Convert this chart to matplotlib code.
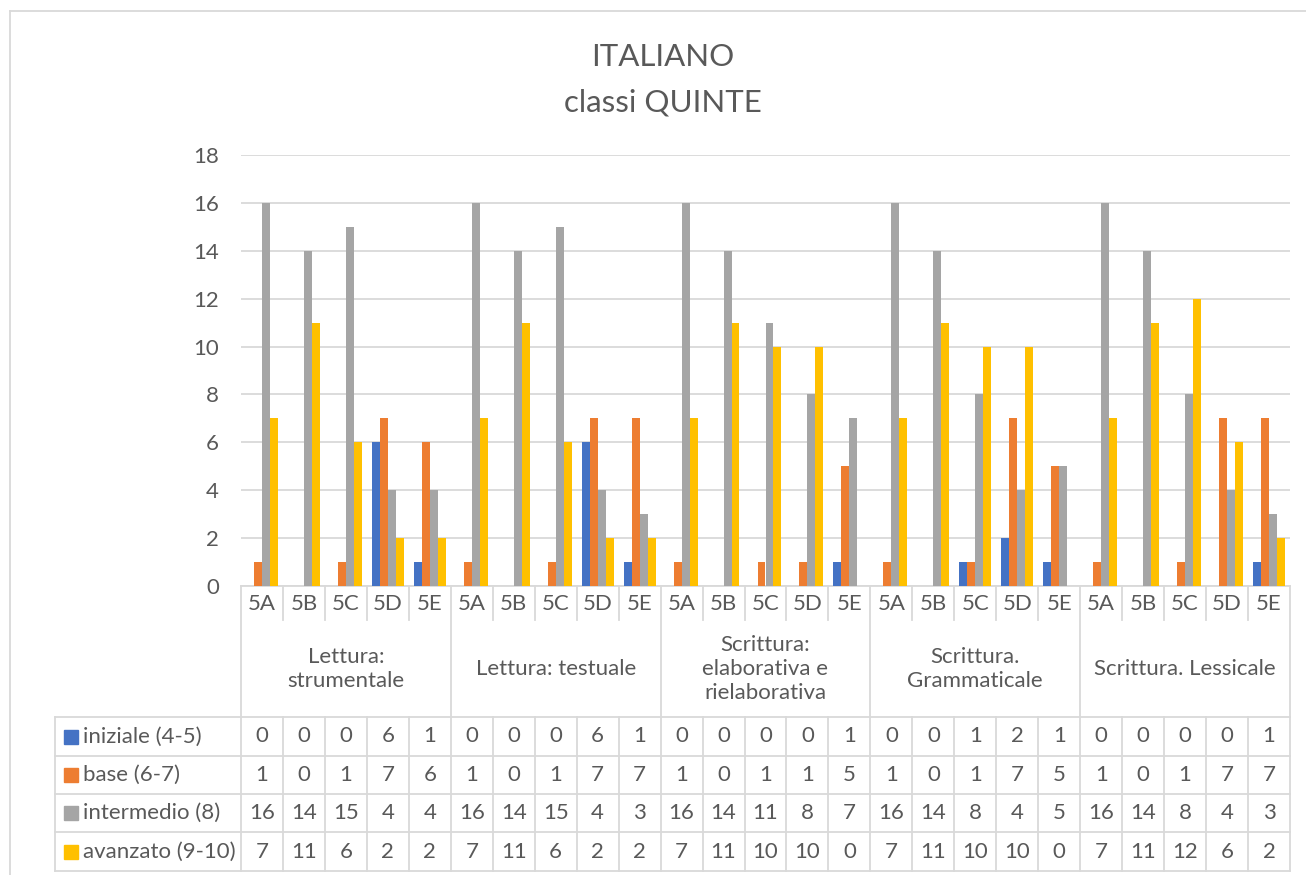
import numpy as np
import matplotlib.pyplot as plt
from matplotlib.lines import Line2D
from matplotlib.patches import Rectangle

plt.rcParams['font.family'] = ['Lato', 'DejaVu Sans']

groups = ["Lettura:\nstrumentale", "Lettura: testuale",
          "Scrittura:\nelaborativa e\nrielaborativa",
          "Scrittura.\nGrammaticale", "Scrittura. Lessicale"]
classes = ["5A", "5B", "5C", "5D", "5E"]
series = ["iniziale (4-5)", "base (6-7)", "intermedio (8)", "avanzato (9-10)"]
iniziale = [0, 0, 0, 6, 1, 0, 0, 0, 6, 1, 0, 0, 0, 0, 1, 0, 0, 1, 2, 1, 0, 0, 0, 0, 1]
base = [1, 0, 1, 7, 6, 1, 0, 1, 7, 7, 1, 0, 1, 1, 5, 1, 0, 1, 7, 5, 1, 0, 1, 7, 7]
intermedio = [16, 14, 15, 4, 4, 16, 14, 15, 4, 3, 16, 14, 11, 8, 7, 16, 14, 8, 4, 5, 16, 14, 8, 4, 3]
avanzato = [7, 11, 6, 2, 2, 7, 11, 6, 2, 2, 7, 11, 10, 10, 0, 7, 11, 10, 10, 0, 7, 11, 12, 6, 2]
colors = ["#4472C4", "#ED7D31", "#A5A5A5", "#FFC000"]

TXT = "#595959"
GRID = "#D9D9D9"
FS = 16

data = [iniziale, base, intermedio, avanzato]
n = len(iniziale)
x = np.arange(n)

W, H = 1306, 875
L, R, T, B = 241, 1290, 155, 586
fig = plt.figure(figsize=(W / 100, H / 100), dpi=100)

# bars
ax = fig.add_axes([L / W, 1 - B / H, (R - L) / W, (B - T) / H])
bw = 0.19
for k, (vals, c) in enumerate(zip(data, colors)):
    ax.bar(x + (k - 1.5) * bw, vals, bw, color=c, zorder=3)
ax.set_xlim(-0.5, n - 0.5)
ax.set_ylim(0, 18)
ax.set_yticks(range(0, 19, 2))
ax.yaxis.grid(True, color=GRID, lw=1.3)
ax.set_axisbelow(True)
for s in ["top", "right", "left"]:
    ax.spines[s].set_visible(False)
ax.spines["bottom"].set_color(GRID)
ax.spines["bottom"].set_linewidth(1.3)
ax.set_xticks([])
ax.tick_params(axis="y", length=0, pad=16, labelsize=FS, labelcolor=TXT)

# data table under the chart, y in pixel rows
tax = fig.add_axes([L / W, 0, (R - L) / W, (H - B) / H])
tax.set_xlim(-0.5, n - 0.5)
tax.set_ylim(H, B)
tax.axis("off")
unit = (R - L) / n
px2x = lambda p: -0.5 + (p - L) / unit
xl = px2x(55)
rows = [717, 756, 794, 832, 871]
kw = dict(color=GRID, lw=1.3, clip_on=False)

for i in range(n + 1):
    xv = i - 0.5
    if i % 5 == 0:
        tax.plot([xv, xv], [B, rows[-1]], **kw)
    else:
        tax.plot([xv, xv], [B, 620], **kw)
        tax.plot([xv, xv], [rows[0], rows[-1]], **kw)
tax.plot([xl, xl], [rows[0], rows[-1]], **kw)
for r in rows:
    tax.plot([xl, n - 0.5], [r, r], **kw)

for i in range(n):
    tax.text(i, 604, classes[i % 5], ha="center", va="center", fontsize=FS, color=TXT)
for g, name in enumerate(groups):
    tax.text(g * 5 + 2, 669, name, ha="center", va="center", fontsize=FS,
             color=TXT, linespacing=1.25)

for k, (vals, c, name) in enumerate(zip(data, colors, series)):
    yc = (rows[k] + rows[k + 1]) / 2
    tax.add_patch(Rectangle((px2x(64), yc - 7), 14 / unit, 14, color=c, clip_on=False))
    tax.text(px2x(83), yc, name, ha="left", va="center", fontsize=FS, color=TXT)
    for i, v in enumerate(vals):
        tax.text(i, yc, str(v), ha="center", va="center", fontsize=FS, color=TXT)

# title
fig.text(663 / W, 1 - 57 / H, "ITALIANO", ha="center", va="center", fontsize=22.5, color=TXT)
fig.text(663 / W, 1 - 102 / H, "classi QUINTE", ha="center", va="center", fontsize=22.5, color=TXT)

# chart border
fig.add_artist(Line2D([10 / W, 10 / W], [0, 1 - 11 / H], transform=fig.transFigure, color=GRID, lw=1.3))
fig.add_artist(Line2D([10 / W, 1], [1 - 11 / H, 1 - 11 / H], transform=fig.transFigure, color=GRID, lw=1.3))

fig.savefig("out.png", dpi=100)
